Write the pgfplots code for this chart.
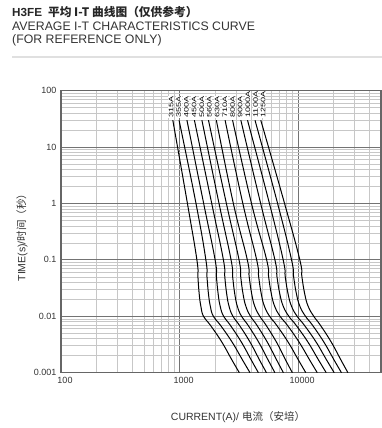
\documentclass[border=0pt]{standalone}
\usepackage{graphicx}
\usepackage{pgfplots}
\pgfplotsset{compat=1.18}
\usepackage{fontspec}
\setmainfont{Liberation Sans}
\newfontfamily\cjk{Noto Sans CJK SC}
\definecolor{txt}{HTML}{333333}
\pgfplotsset{curve/.style={black, line width=1pt, smooth, tension=0.75, no marks, solid}}
\newcommand{\lab}[3]{\node[rotate=90, anchor=west, fill=white, inner xsep=0.4pt, inner ysep=0.6pt, font=\fontsize{6.5}{7}\selectfont] at (axis cs:#1,#2) {\scalebox{1.4}[1]{#3}};}
\begin{document}
\begin{tikzpicture}
\useasboundingbox (-61pt,-55.3pt) rectangle (321pt,372.7pt);
\begin{axis}[
  xmode=log, ymode=log,
  scale only axis, width=320pt, height=282pt,
  at={(0pt,0pt)}, anchor=south west,
  xmin=100, xmax=50000, ymin=0.001, ymax=100,
  grid=both,
  major grid style={black!55, line width=0.9pt},
  minor grid style={black!22, line width=0.7pt},
  axis line style={black!60, line width=1.3pt},
  major tick length=0pt, minor tick length=0pt,
  xtick={100,1000,10000}, xticklabels={100,1000,10000},
  ytick={0.001,0.01,0.1,1,10,100}, yticklabels={0.001,0.01,0.1,1,10,100},
  minor xtick={200,300,400,500,600,700,800,900,2000,3000,4000,5000,6000,7000,8000,9000,20000,30000,40000},
  minor ytick={0.002,0.003,0.004,0.005,0.006,0.007,0.008,0.009,0.02,0.03,0.04,0.05,0.06,0.07,0.08,0.09,0.2,0.3,0.4,0.5,0.6,0.7,0.8,0.9,2,3,4,5,6,7,8,9,20,30,40,50,60,70,80,90},
  /pgf/number format/assume math mode=true,
  xticklabel style={font=\fontsize{9}{10}\selectfont, text=txt, anchor=north, xshift=4pt, yshift=-1pt},
  yticklabel style={font=\fontsize{9}{10}\selectfont, text=txt, anchor=east, xshift=-1pt},
  clip=false,
]
\addplot[curve] coordinates {(877,30)(1165,1)(1400,0.1)(1428,0.05)(1464,0.025)(1513,0.015)(1591,0.01)(1815,0.007)(2271,0.0035)(2756,0.0017)(3193,0.001)};
\addplot[curve] coordinates {(990,30)(1376,1)(1667,0.1)(1703,0.05)(1753,0.025)(1818,0.015)(1927,0.01)(2206,0.007)(2772,0.0035)(3384,0.0017)(3928,0.001)};
\addplot[curve] coordinates {(1154,30)(1597,1)(1995,0.1)(2046,0.05)(2115,0.025)(2202,0.015)(2352,0.01)(2672,0.007)(3319,0.0035)(4012,0.0017)(4621,0.001)};
\addplot[curve] coordinates {(1334,30)(1868,1)(2343,0.1)(2407,0.05)(2497,0.025)(2616,0.015)(2816,0.01)(3187,0.007)(3928,0.0035)(4711,0.0017)(5405,0.001)};
\addplot[curve] coordinates {(1543,30)(2152,1)(2719,0.1)(2805,0.05)(2921,0.025)(3072,0.015)(3332,0.01)(3771,0.007)(4639,0.0035)(5564,0.0017)(6371,0.001)};
\addplot[curve] coordinates {(1753,30)(2483,1)(3175,0.1)(3281,0.05)(3430,0.025)(3628,0.015)(3966,0.01)(4480,0.007)(5489,0.0035)(6571,0.0017)(7510,0.001)};
\addplot[curve] coordinates {(2042,30)(2843,1)(3728,0.1)(3867,0.05)(4059,0.025)(4310,0.015)(4748,0.01)(5353,0.007)(6559,0.0035)(7821,0.0017)(8938,0.001)};
\addplot[curve] coordinates {(2421,30)(3417,1)(4471,0.1)(4648,0.05)(4887,0.025)(5200,0.015)(5750,0.01)(6571,0.007)(8225,0.0035)(10020,0.0017)(11607,0.001)};
\addplot[curve] coordinates {(2799,30)(4043,1)(5426,0.1)(5640,0.05)(5942,0.025)(6346,0.015)(7045,0.01)(8083,0.007)(10176,0.0035)(12468,0.0017)(14499,0.001)};
\addplot[curve] coordinates {(3287,30)(4831,1)(6371,0.1)(6635,0.05)(7005,0.025)(7495,0.015)(8353,0.01)(9583,0.007)(12088,0.0035)(14811,0.0017)(17257,0.001)};
\addplot[curve] coordinates {(3742,30)(5728,1)(7481,0.1)(7791,0.05)(8225,0.025)(8801,0.015)(9808,0.01)(11253,0.007)(14167,0.0035)(17324,0.0017)(20147,0.001)};
\addplot[curve] coordinates {(4327,30)(6713,1)(8801,0.1)(9166,0.05)(9677,0.025)(10354,0.015)(11540,0.01)(13188,0.007)(16474,0.0035)(20030,0.0017)(23203,0.001)};
\addplot[curve] coordinates {(4840,30)(7686,1)(10334,0.1)(10763,0.05)(11362,0.025)(12158,0.015)(13550,0.01)(15366,0.007)(19011,0.0035)(22891,0.0017)(26313,0.001)};
\lab{847}{32.8}{315A}
\lab{983}{32.8}{355A}
\lab{1141}{32.8}{400A}
\lab{1326}{32.8}{450A}
\lab{1540}{32.8}{500A}
\lab{1787}{32.8}{560A}
\lab{2074}{32.8}{630A}
\lab{2407}{32.8}{710A}
\lab{2799}{32.8}{800A}
\lab{3249}{32.8}{900A}
\lab{3771}{32.8}{1000A}
\lab{4377}{32.8}{1100A}
\lab{5080}{32.8}{1250A}
\end{axis}
\node[anchor=base west, inner sep=0pt, font=\fontsize{11.7}{13}\selectfont, text=black!85] at (-49pt,355.7pt) {\textbf{H3FE}\hspace{6pt}{\cjk\bfseries 平均 I-T 曲线图（仅供参考）}};
\node[anchor=base west, inner sep=0pt, font=\fontsize{12.3}{14}\selectfont, text=txt] at (-49pt,342.5pt) {AVERAGE I-T CHARACTERISTICS CURVE};
\node[anchor=base west, inner sep=0pt, font=\fontsize{12.3}{14}\selectfont, text=txt] at (-49pt,329.2pt) {(FOR REFERENCE ONLY)};
\draw[black!12, line width=1.3pt] (-49pt,315.7pt) -- (321pt,315.7pt);
\node[rotate=90, anchor=center, inner sep=0pt, font=\fontsize{10.5}{12}\selectfont, text=txt] at (-39pt,137.7pt) {TIME(s)/{\cjk 时间（秒）}};
\node[anchor=base, inner sep=0pt, font=\fontsize{10.5}{12}\selectfont, text=txt] at (177pt,-47.3pt) {CURRENT(A)/ {\cjk 电流（安培）}};
\end{tikzpicture}
\end{document}
